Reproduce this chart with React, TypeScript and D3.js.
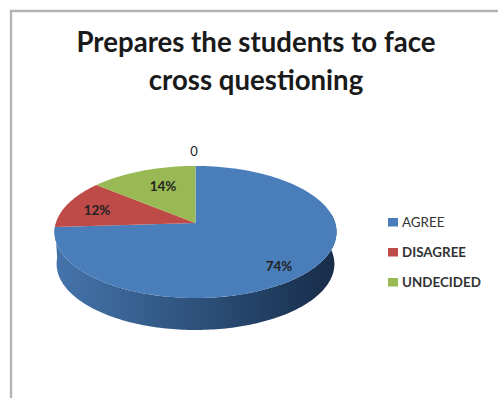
import React from "react";
import * as d3 from "d3";

const categories = ["AGREE", "DISAGREE", "UNDECIDED"];
const shares = [74, 12, 14];
const sliceColors = ["#4a7ebb", "#be4b48", "#98b954"];
const titleLines = ["Prepares the students to face", "cross questioning"];
const stray = "0";

const WIDTH = 498;
const HEIGHT = 398;
const CENTER_X = 195.5;
const APEX_Y = 223;
const TILT = 0.136;
const DEPTH = 32;

// Projects a point of the unit disc onto the tilted pie plane.
function project(angle: number, radius = 1, drop = 0, shrink = 1): [number, number] {
  const u = Math.sin(angle) * radius;
  const v = Math.cos(angle) * radius;
  const w = 1 + TILT * v;
  return [CENTER_X + (139.7 * shrink * u) / w, APEX_Y + drop - (64.8 * v) / w];
}

const toPath = d3.line<[number, number]>().curve(d3.curveLinear);

function arcPoints(a0: number, a1: number, drop = 0, shrink = 1): [number, number][] {
  const steps = Math.max(2, Math.ceil(Math.abs(a1 - a0) / 0.02));
  return d3.range(steps + 1).map((i) => project(a0 + ((a1 - a0) * i) / steps, 1, drop, shrink));
}

export default function App() {
  const arcs = d3
    .pie<number>()
    .sort(null)
    .value((d) => d)(shares);

  // The wall is visible from the right rim round the front to the left rim.
  const wallStart = 1.43;
  const wallEnd = Math.PI * 1.485;
  const wall = [
    ...arcPoints(wallStart, wallEnd),
    ...arcPoints(wallEnd, wallStart, DEPTH, 0.985),
  ];

  const legendY = d3.scalePoint<string>().domain(categories).range([222, 282]);
  const labelSpots: [number, number][] = [
    [279, 266],
    [97, 210],
    [163, 186],
  ];

  return (
    <svg
      width={WIDTH}
      height={HEIGHT}
      style={{ position: "absolute", left: 0, top: 0, background: "#fff" }}
    >
      <defs>
        <linearGradient id="wallShade" x1="0" x2="1" y1="0" y2="0">
          <stop offset="0" stopColor="#4474ab" />
          <stop offset="0.3" stopColor="#37608f" />
          <stop offset="0.6" stopColor="#294a72" />
          <stop offset="1" stopColor="#172c48" />
        </linearGradient>
      </defs>

      <path d="M11,398V11H498" fill="none" stroke="#b4b4b4" strokeWidth={2.4} />

      <g fontFamily="Lato, 'Open Sans', sans-serif" fontWeight={700} fontSize={27.6} fill="#1a1a1a" textAnchor="middle">
        {titleLines.map((line, i) => (
          <text key={line} x={256} y={52 + i * 38}>
            {line}
          </text>
        ))}
      </g>

      <path d={toPath(wall) + "Z"} fill="url(#wallShade)" />
      {arcs.map((a, i) => (
        <path
          key={categories[i]}
          d={toPath([[CENTER_X, APEX_Y], ...arcPoints(a.startAngle, a.endAngle)]) + "Z"}
          fill={sliceColors[i]}
        />
      ))}

      <g fontFamily="Lato, 'Open Sans', sans-serif" fontWeight={700} fontSize={13.5} fill="#222" textAnchor="middle">
        {arcs.map((a, i) => (
          <text key={categories[i]} x={labelSpots[i][0]} y={labelSpots[i][1] + 5}>
            {a.data}%
          </text>
        ))}
        <text x={194} y={156} fontSize={13} fontWeight={400}>
          {stray}
        </text>
      </g>

      {categories.map((c, i) => (
        <g key={c}>
          <rect x={388} y={legendY(c)! - 4} width={10} height={8.5} fill={sliceColors[i]} />
          <text
            x={402}
            y={legendY(c)! + 4.5}
            fontFamily="Lato, 'Open Sans', sans-serif"
            fontSize={13.4}
            fontWeight={i === 0 ? 400 : 700}
            fill="#333"
          >
            {c}
          </text>
        </g>
      ))}
    </svg>
  );
}
